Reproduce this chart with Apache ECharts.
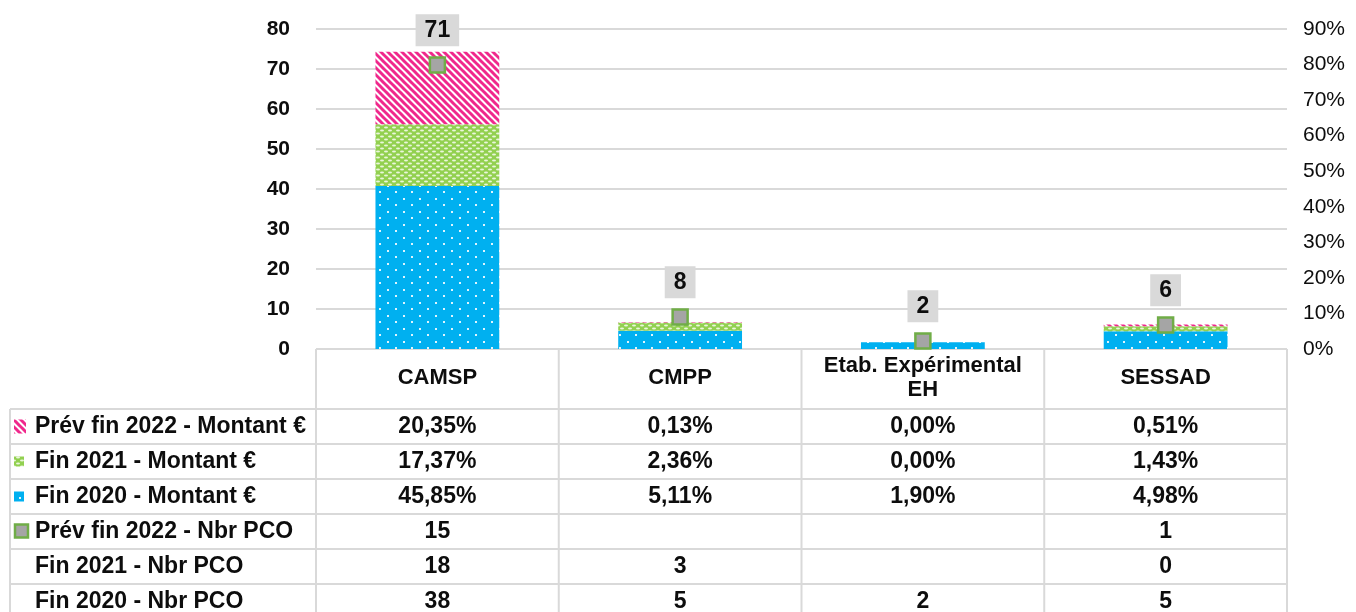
<!DOCTYPE html>
<html>
<head>
<meta charset="utf-8">
<script src="https://cdn.jsdelivr.net/npm/echarts@6/dist/echarts.min.js"></script>
<style>
  html, body { margin: 0; padding: 0; background: #fff; }
  #chart { width: 1356px; height: 612px; }
</style>
</head>
<body>
<div id="chart"></div>
<script>
// categories and table rows
const categories = ['CAMSP', 'CMPP', 'Etab. Expérimental\nEH', 'SESSAD'];

const prev2022Montant = [20.35, 0.13, 0.00, 0.51];
const fin2021Montant = [17.37, 2.36, 0.00, 1.43];
const fin2020Montant = [45.85, 5.11, 1.90, 4.98];
const prev2022Pco = [15, null, null, 1];
const fin2021Pco = [18, 3, null, 0];
const fin2020Pco = [38, 5, 2, 5];

const rowNames = [
  'Prév fin 2022 - Montant €',
  'Fin 2021 - Montant €',
  'Fin 2020 - Montant €',
  'Prév fin 2022 - Nbr PCO',
  'Fin 2021 - Nbr PCO',
  'Fin 2020 - Nbr PCO'
];

const leftTicks = { min: 0, max: 80, interval: 10 };
const rightTicks = { min: 0, max: 90, interval: 10 };

// total PCO per category (what the markers show)
const totalPco = categories.map((_, i) =>
  (fin2020Pco[i] || 0) + (fin2021Pco[i] || 0) + (prev2022Pco[i] || 0)
);

const FONT = 'Liberation Sans, Arial, sans-serif';
const GRID = { left: 316, right: 69, top: 29, bottom: 263 };
const TABLE_LEFT = 10;
const ROW_TOP = 409;
const ROW_H = 35;
const LINE_COL = '#d9d9d9';

function makePattern(w, h, draw) {
  const c = document.createElement('canvas');
  c.width = w;
  c.height = h;
  draw(c.getContext('2d'));
  return { image: c, repeat: 'repeat' };
}

const bluePattern = makePattern(16, 13, (ctx) => {
  ctx.fillStyle = '#00b0f0';
  ctx.fillRect(0, 0, 16, 13);
  ctx.fillStyle = '#dff4fd';
  ctx.fillRect(3, 3, 2, 2);
  ctx.fillRect(11, 9, 2, 2);
});

const greenPattern = makePattern(8, 6, (ctx) => {
  ctx.fillStyle = '#92d050';
  ctx.fillRect(0, 0, 8, 6);
  ctx.fillStyle = '#eaf6dc';
  ctx.beginPath();
  ctx.ellipse(2, 1.5, 2, 1, 0, 0, Math.PI * 2);
  ctx.fill();
  ctx.beginPath();
  ctx.ellipse(6, 4.5, 2, 1, 0, 0, Math.PI * 2);
  ctx.fill();
});

const pinkPattern = makePattern(7, 7, (ctx) => {
  ctx.fillStyle = '#ffffff';
  ctx.fillRect(0, 0, 7, 7);
  ctx.strokeStyle = '#f0288c';
  ctx.lineWidth = 3;
  for (const off of [-7, 0, 7]) {
    ctx.beginPath();
    ctx.moveTo(off - 1, -1);
    ctx.lineTo(off + 8, 8);
    ctx.stroke();
  }
});

function fmtPct(v) {
  return v == null ? '' : v.toFixed(2).replace('.', ',') + '%';
}
function fmtNum(v) {
  return v == null ? '' : String(v);
}

const tableRows = [
  prev2022Montant.map(fmtPct),
  fin2021Montant.map(fmtPct),
  fin2020Montant.map(fmtPct),
  prev2022Pco.map(fmtNum),
  fin2021Pco.map(fmtNum),
  fin2020Pco.map(fmtNum)
];

const chart = echarts.init(document.getElementById('chart'));

const option = {
  animation: false,
  textStyle: { fontFamily: FONT },
  grid: GRID,
  xAxis: {
    type: 'category',
    data: categories,
    axisLine: { show: false },
    axisTick: { show: false },
    axisLabel: {
      margin: 29,
      verticalAlign: 'middle',
      color: '#0d0d0d',
      fontFamily: FONT,
      fontWeight: 'bold',
      fontSize: 22,
      lineHeight: 24,
      interval: 0
    }
  },
  yAxis: [
    {
      type: 'value',
      min: leftTicks.min,
      max: leftTicks.max,
      interval: leftTicks.interval,
      axisLine: { show: false },
      axisTick: { show: false },
      splitLine: { lineStyle: { color: LINE_COL, width: 2 } },
      axisLabel: {
        margin: 26,
        color: '#0d0d0d',
        fontFamily: FONT,
        fontWeight: 'bold',
        fontSize: 21
      }
    },
    {
      type: 'value',
      min: rightTicks.min,
      max: rightTicks.max,
      interval: rightTicks.interval,
      axisLine: { show: false },
      axisTick: { show: false },
      splitLine: { show: false },
      axisLabel: {
        margin: 16,
        color: '#0d0d0d',
        fontFamily: FONT,
        fontSize: 21,
        formatter: '{value}%'
      }
    }
  ],
  series: [
    {
      name: rowNames[2],
      type: 'bar',
      stack: 'montant',
      yAxisIndex: 1,
      barWidth: '51%',
      itemStyle: { color: bluePattern },
      data: fin2020Montant
    },
    {
      name: rowNames[1],
      type: 'bar',
      stack: 'montant',
      yAxisIndex: 1,
      itemStyle: { color: greenPattern },
      data: fin2021Montant
    },
    {
      name: rowNames[0],
      type: 'bar',
      stack: 'montant',
      yAxisIndex: 1,
      itemStyle: { color: pinkPattern },
      data: prev2022Montant
    },
    {
      name: rowNames[3],
      type: 'line',
      yAxisIndex: 0,
      symbol: 'rect',
      symbolSize: 15,
      lineStyle: { opacity: 0 },
      itemStyle: { color: '#a5a5a5', borderColor: '#70ad47', borderWidth: 2.5 },
      label: {
        show: true,
        position: 'top',
        distance: 10,
        backgroundColor: '#d9d9d9',
        padding: [5, 9, 4, 9],
        color: '#0d0d0d',
        fontFamily: FONT,
        fontWeight: 'bold',
        fontSize: 23
      },
      z: 5,
      data: totalPco
    }
  ]
};

chart.setOption(option);

// data table under the plot, laid out from the category axis
const colW = chart.convertToPixel({ xAxisIndex: 0 }, 1) - chart.convertToPixel({ xAxisIndex: 0 }, 0);
const centers = categories.map((_, i) => chart.convertToPixel({ xAxisIndex: 0 }, i));
const plotTop = chart.convertToPixel({ yAxisIndex: 0 }, 0);
const plotLeft = centers[0] - colW / 2;
const plotRight = centers[centers.length - 1] + colW / 2;
const bottom = 612 + 10;

const graphics = [];
const line = (x1, y1, x2, y2) => graphics.push({
  type: 'line',
  shape: { x1, y1, x2, y2 },
  style: { stroke: LINE_COL, lineWidth: 2 },
  silent: true
});

line(plotLeft, plotTop, plotRight, plotTop);
for (let r = 0; r < rowNames.length; r++) {
  line(TABLE_LEFT, ROW_TOP + r * ROW_H, plotRight, ROW_TOP + r * ROW_H);
}
line(TABLE_LEFT, ROW_TOP, TABLE_LEFT, bottom);
for (let c = 0; c <= categories.length; c++) {
  const x = plotLeft + c * colW;
  line(x, plotTop, x, bottom);
}

const textStyle = {
  fill: '#0d0d0d',
  font: 'bold 23px ' + FONT,
  verticalAlign: 'middle'
};

rowNames.forEach((name, r) => {
  const cy = ROW_TOP + r * ROW_H + ROW_H / 2;
  graphics.push({
    type: 'text',
    x: 35,
    y: cy,
    style: Object.assign({ text: name, align: 'left' }, textStyle)
  });
  tableRows[r].forEach((txt, c) => {
    graphics.push({
      type: 'text',
      x: centers[c],
      y: cy,
      style: Object.assign({ text: txt, align: 'center' }, textStyle)
    });
  });
});

// legend keys in the first column
const keyY = (r) => ROW_TOP + r * ROW_H + ROW_H / 2;
graphics.push(
  { type: 'rect', shape: { x: 14, y: keyY(0) - 7, width: 12, height: 14 }, style: { fill: pinkPattern } },
  { type: 'rect', shape: { x: 14, y: keyY(1) - 5, width: 10, height: 10 }, style: { fill: greenPattern } },
  { type: 'rect', shape: { x: 14, y: keyY(2) - 5, width: 10, height: 10 }, style: { fill: bluePattern } },
  { type: 'rect', shape: { x: 15, y: keyY(3) - 7, width: 13, height: 13 }, style: { fill: '#a5a5a5', stroke: '#70ad47', lineWidth: 2.5 } }
);

chart.setOption({ graphic: graphics });
</script>
</body>
</html>
